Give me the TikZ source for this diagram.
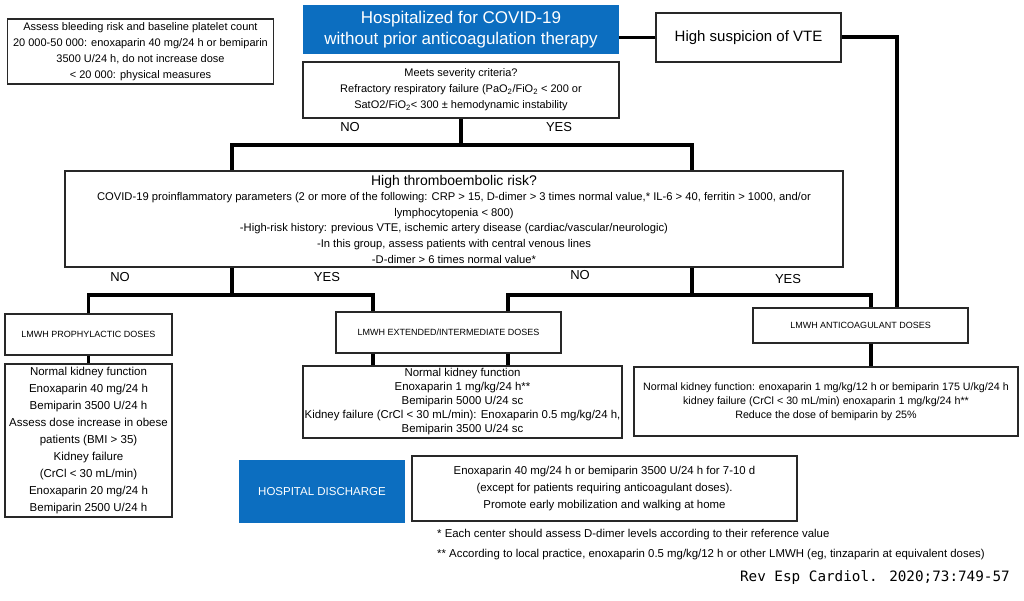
\documentclass[tikz,border=0pt]{standalone}
\usepackage{fontspec}
\setmainfont{Liberation Sans}
\newfontfamily\revfont{DejaVu Sans Mono}
\definecolor{hblue}{RGB}{12,110,192}
\definecolor{boxline}{RGB}{40,40,40}
\newcommand{\fsz}[2]{\fontsize{#1}{#2}\selectfont}
\begin{document}
\begin{tikzpicture}[x=1pt,y=-1pt,
  box/.style={draw=boxline, line width=1.1pt, fill=white, inner sep=0pt, align=center},
  bluebox/.style={fill=hblue, text=white, inner sep=0pt, align=center},
  conn/.style={line width=3.6pt, black},
  lbl/.style={inner sep=0pt, font=\fsz{13}{15}},
  foot/.style={inner sep=0pt, anchor=west, font=\fsz{11.4}{13}}]
\useasboundingbox (0,0) rectangle (1024,601);
\fill[white] (0,0) rectangle (1024,601);

% top row
\node[box, minimum width=266pt, minimum height=65pt, font=\fsz{11}{16}] (bleed) at (140.5,51.5)
  {Assess bleeding risk and baseline platelet count\\
   20 000-50 000: enoxaparin 40 mg/24 h or bemiparin\\
   3500 U/24 h, do not increase dose\\
   < 20 000: physical measures};
\node[bluebox, minimum width=316pt, minimum height=49pt, font=\fsz{17}{21}] (hosp) at (461,29.5)
  {Hospitalized for COVID-19\\ without prior anticoagulation therapy};
\node[box, minimum width=185pt, minimum height=49pt, font=\fsz{15}{18}] (vte) at (748.5,37.5)
  {High suspicion of VTE};
\node[box, minimum width=316pt, minimum height=56pt, font=\fsz{11}{16}] (sev) at (461,90)
  {Meets severity criteria?\\
   Refractory respiratory failure (PaO\textsubscript{2}/FiO\textsubscript{2} < 200 or\\
   SatO2/FiO\textsubscript{2}< 300 ± hemodynamic instability};

% thromboembolic risk
\node[box, minimum width=778pt, minimum height=96pt, font=\fsz{11.2}{15.6}] (thr) at (454,219)
  {{\fsz{14}{15.6}High thromboembolic risk?}\\
   COVID-19 proinflammatory parameters (2 or more of the following: CRP > 15, D-dimer > 3 times normal value,* IL-6 > 40, ferritin > 1000, and/or\\
   lymphocytopenia < 800)\\
   -High-risk history: previous VTE, ischemic artery disease (cardiac/vascular/neurologic)\\
   -In this group, assess patients with central venous lines\\
   -D-dimer > 6 times normal value*};

% dose boxes
\node[box, minimum width=167pt, minimum height=41pt, font=\fsz{9}{11}] (proph) at (88.5,334.5)
  {LMWH PROPHYLACTIC DOSES};
\node[box, minimum width=167pt, minimum height=153pt, font=\fsz{11.5}{17}] (prophD) at (88.5,440.5)
  {Normal kidney function\\
   Enoxaparin 40 mg/24 h\\
   Bemiparin 3500 U/24 h\\
   Assess dose increase in obese\\
   patients (BMI > 35)\\
   Kidney failure\\
   (CrCl < 30 mL/min)\\
   Enoxaparin 20 mg/24 h\\
   Bemiparin 2500 U/24 h};
\node[box, minimum width=225pt, minimum height=41pt, font=\fsz{9}{11}] (ext) at (448.5,332.5)
  {LMWH EXTENDED/INTERMEDIATE DOSES};
\node[box, minimum width=319pt, minimum height=72pt, font=\fsz{11.4}{14}] (extD) at (462.5,402)
  {Normal kidney function\\
   Enoxaparin 1 mg/kg/24 h**\\
   Bemiparin 5000 U/24 sc\\
   Kidney failure (CrCl < 30 mL/min): Enoxaparin 0.5 mg/kg/24 h,\\
   Bemiparin 3500 U/24 sc};
\node[box, minimum width=215pt, minimum height=35pt, font=\fsz{9}{11}] (anti) at (860.5,325.5)
  {LMWH ANTICOAGULANT DOSES};
\node[box, minimum width=384pt, minimum height=69pt, font=\fsz{10.7}{14}] (antiD) at (826,401.5)
  {Normal kidney function: enoxaparin 1 mg/kg/12 h or bemiparin 175 U/kg/24 h\\
   kidney failure (CrCl < 30 mL/min) enoxaparin 1 mg/kg/24 h**\\
   Reduce the dose of bemiparin by 25\%};

% discharge
\node[bluebox, minimum width=166pt, minimum height=63pt, font=\fsz{11.5}{14}] (disc) at (322,491.5)
  {HOSPITAL DISCHARGE};
\node[box, minimum width=385pt, minimum height=65pt, font=\fsz{11.4}{17}] (discD) at (604.5,488.5)
  {Enoxaparin 40 mg/24 h or bemiparin 3500 U/24 h for 7-10 d\\
   (except for patients requiring anticoagulant doses).\\
   Promote early mobilization and walking at home};

% footnotes
\node[foot] (fn1) at (437,535) {* Each center should assess D-dimer levels according to their reference value};
\node[foot] (fn2) at (437,555) {** According to local practice, enoxaparin 0.5 mg/kg/12 h or other LMWH (eg, tinzaparin at equivalent doses)};
\node[inner sep=0pt, anchor=east, font=\revfont\fsz{14.3}{16}] (rev) at (1010,578) {Rev Esp Cardiol. 2020;73:749-57};

% branch labels
\node[lbl] (no1) at (350,127) {NO};
\node[lbl] (yes1) at (559,127) {YES};
\node[lbl] (no2) at (120,277) {NO};
\node[lbl] (yes2) at (327,277) {YES};
\node[lbl] (no3) at (580,275) {NO};
\node[lbl] (yes3) at (788,279) {YES};

% junction coordinates
\coordinate (jl) at (232,145);
\coordinate (jr) at (692,145);
\coordinate (kl) at (232,295);
\coordinate (kr) at (692,295);
\coordinate (e1) at (373,295);
\coordinate (e2) at (508,295);
\coordinate (a1) at (871,295);
\coordinate (v1) at (897,37);

% connectors
\draw[conn] (hosp.east |- vte.west) -- (vte.west);
\draw[conn] (vte.east |- v1) -- (v1) -- (anti.north -| v1);
\draw[conn] (sev.south) -- (sev.south |- jl);
\draw[conn] (thr.north -| jl) -- (jl) -- (jr) -- (thr.north -| jr);
\draw[conn] (thr.south -| kl) -- (kl);
\draw[conn] (proph.north) |- (e1) -- (ext.north -| e1);
\draw[conn] (thr.south -| kr) -- (kr);
\draw[conn] (ext.north -| e2) -- (e2) -- (a1) -- (anti.north -| a1);
\draw[conn] (proph.south) -- (prophD.north);
\draw[conn] (ext.south -| e1) -- (extD.north -| e1);
\draw[conn] (ext.south -| e2) -- (extD.north -| e2);
\draw[conn] (anti.south -| a1) -- (antiD.north -| a1);
\end{tikzpicture}
\end{document}
